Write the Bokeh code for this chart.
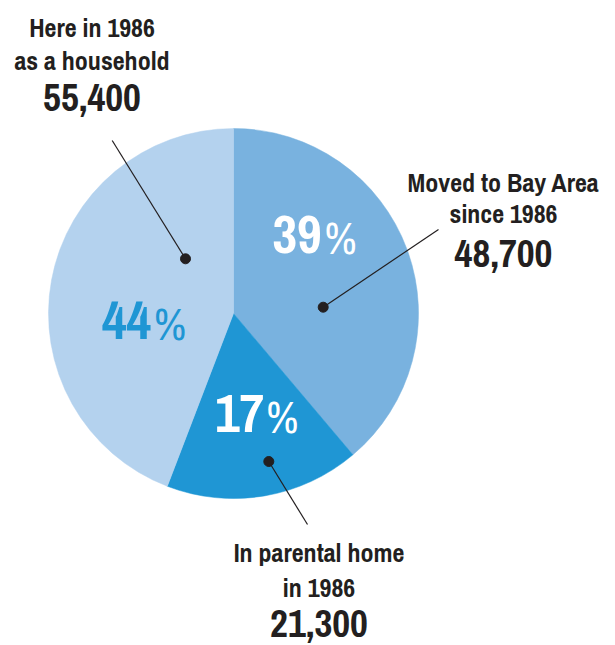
import math
from bokeh.plotting import figure
from bokeh.models import Range1d, ColumnDataSource
from bokeh.core.properties import value
from bokeh.embed import file_html
from bokeh.resources import INLINE

# ---- data ----
categories = ["Moved to Bay Area since 1986", "In parental home in 1986", "Here in 1986 as a household"]
counts = [48700, 21300, 55400]
pct_labels = ["39", "17", "44"]
count_labels = ["48,700", "21,300", "55,400"]
label_lines = [["Moved to Bay Area", "since 1986"], ["In parental home", "in 1986"], ["Here in 1986", "as a household"]]
colors = ["#79b2df", "#1f96d4", "#b4d2ee"]
pct_colors = ["#ffffff", "#ffffff", "#1f96d4"]

FONT = "Archivo Narrow"
INK = "#231f20"
R = 185
K = 0.39  # baseline correction factor (fraction of font size)

p = figure(width=615, height=645, output_backend="svg", toolbar_location=None,
           x_range=Range1d(-233, 382), y_range=Range1d(-332, 313),
           min_border=0, outline_line_color=None)
p.axis.visible = False
p.grid.visible = False
p.background_fill_color = "white"
p.border_fill_color = "white"

total = sum(counts)
starts, ends = [], []
acc = 0.0
for c in counts:
    a0 = math.pi / 2 - 2 * math.pi * acc / total
    acc += c
    a1 = math.pi / 2 - 2 * math.pi * acc / total
    starts.append(a0)
    ends.append(a1)

src = ColumnDataSource(dict(start=starts, end=ends, color=colors, cat=categories))
p.wedge(x=0, y=0, radius=R, start_angle="start", end_angle="end", direction="clock",
        fill_color="color", line_color="color", line_width=0.5, source=src)


def txt(x, y, s, size, color, style="bold"):
    p.text(x=[x], y=[y + K * size], text=[s], text_font=value(FONT),
           text_font_style=style, text_font_size=f"{size}px", text_color=color,
           text_align="center", text_baseline="alphabetic")


# percentage labels (digits + smaller percent sign)
digit_pos = [(63.5, 58), (6, -121), (-107, -27.7)]
pct_pos = [(107, 58), (48.7, -121), (-63.5, -27.7)]
for i in range(3):
    txt(digit_pos[i][0], digit_pos[i][1], pct_labels[i], 54, pct_colors[i])
    txt(pct_pos[i][0], pct_pos[i][1], "%", 44, pct_colors[i], style="normal")

# leader lines with dots
dots = [(89.7, 6.3), (35.3, -148), (-48, 54.7)]
ends_l = [(205, 84), (74, -211), (-121.3, 173)]
for (dx, dy), (ex, ey) in zip(dots, ends_l):
    p.line(x=[dx, ex], y=[dy, ey], line_color=INK, line_width=1.2)
p.scatter(x=[d[0] for d in dots], y=[d[1] for d in dots], size=10,
          fill_color=INK, line_color=INK)

# category labels
label_x = [270, 85.5, -141.5]
line_base = [[121, 90], [-249, -284], [276, 243]]
num_base = [45, -325, 201]
for i in range(3):
    for t, yb in zip(label_lines[i], line_base[i]):
        txt(label_x[i], yb, t, 26, INK)
    txt(label_x[i], num_base[i], count_labels[i], 39, INK)

open("out.html", "w").write(file_html(p, INLINE))
